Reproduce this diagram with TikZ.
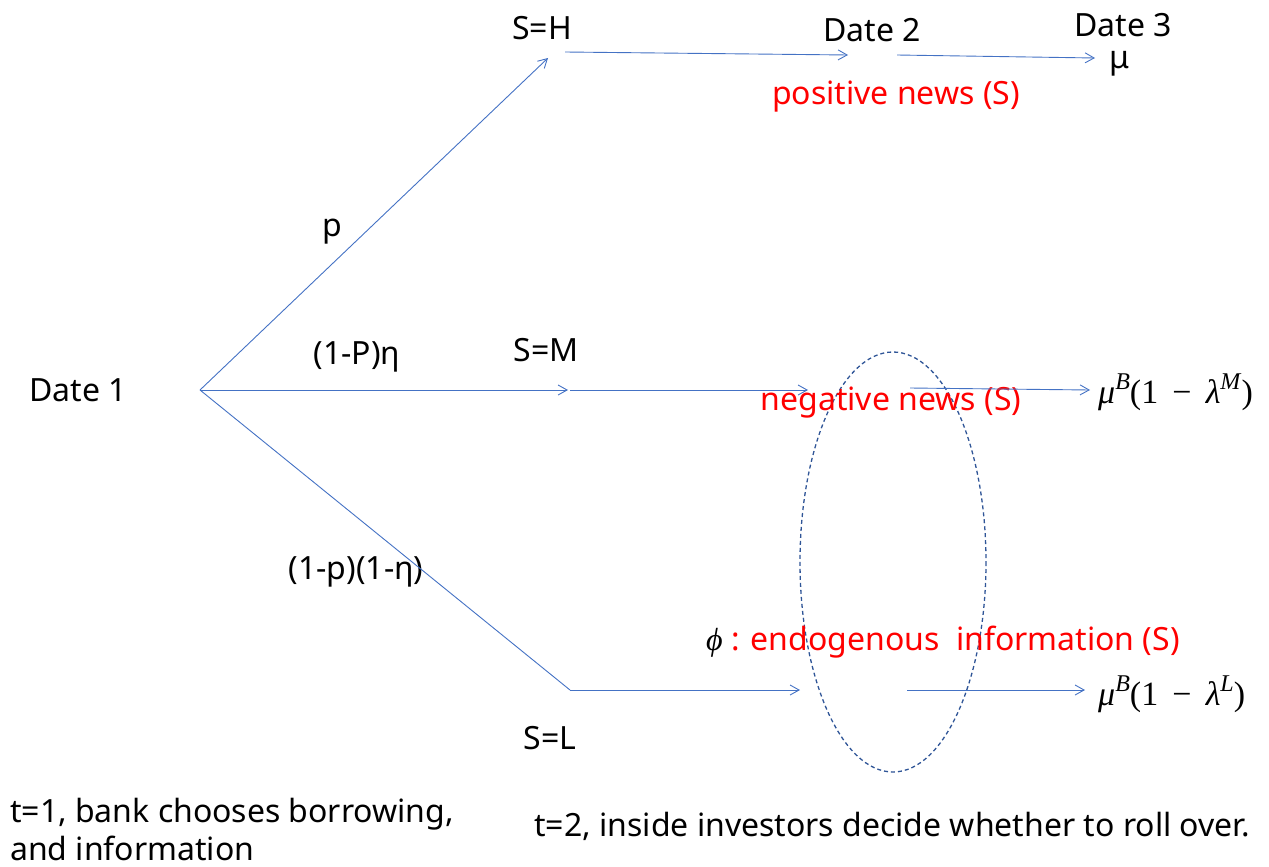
\documentclass[tikz,border=0pt]{standalone}
\usepackage{fontspec}
\setmainfont{Noto Sans}
\newfontfamily\tms{Liberation Serif}
\usetikzlibrary{arrows.meta}
\definecolor{arr}{HTML}{4472C4}
\definecolor{ell}{HTML}{2F5597}
\definecolor{rd}{HTML}{FF0000}
\newcommand{\supx}[1]{\raisebox{0.42em}{\fontsize{24}{24}\selectfont\textit{#1}}}
\tikzset{
  conn/.style={draw=arr, line width=0.9pt, -{Straight Barb[length=9pt,width=10pt,line width=0.9pt]}},
  lbl/.style={font=\fontsize{32}{38}\selectfont, text=black, inner sep=0pt},
  red/.style={font=\fontsize{32}{38}\selectfont, text=rd, inner sep=0pt},
  mth/.style={font=\tms\fontsize{34}{38}\selectfont, text=black, inner sep=0pt}
}
\begin{document}
\begin{tikzpicture}[x=1pt,y=-1pt]
\useasboundingbox (0,0) rectangle (1269,867);
% anchor points
\coordinate (o) at (200,390);
\coordinate (h1) at (548,58);
\coordinate (h2) at (565,52);
\coordinate (h3) at (848,55);
\coordinate (h4) at (897,55);
\coordinate (h5) at (1095,58);
\coordinate (m1) at (568,390);
\coordinate (m2) at (570,390);
\coordinate (m3) at (808,390);
\coordinate (m4) at (910,388);
\coordinate (m5) at (1090,390);
\coordinate (l1) at (570,690);
\coordinate (l2) at (800,690);
\coordinate (l3) at (907,690);
\coordinate (l4) at (1085,690);
% texts
\node[lbl] (d1) at (78,390) {Date 1};
\node[lbl] (sh) at (542,28) {S=H};
\node[lbl] (d2) at (872,30) {Date 2};
\node[lbl] (d3) at (1123,25) {Date 3};
\node[lbl] (mu) at (1120,64) {μ};
\node[red] (pos) at (896,97) {positive news (S)};
\node[lbl] (p) at (332,232) {p};
\node[lbl] (pe) at (357,357) {(1-P)η};
\node[lbl] (sm) at (546,350) {S=M};
\node[lbl] (pq) at (356,572) {(1-p)(1-η)};
\node[lbl] (sl) at (550,738) {S=L};
\node[mth, anchor=west] (rm) at (1098,392) {\textit{μ}\supx{B}(1\,\ −\ \,\textit{λ}\supx{M})};
\node[mth, anchor=west] (rl) at (1098,694) {\textit{μ}\supx{B}(1\,\ −\ \,\textit{λ}\supx{L})};
% ellipse
\draw[ell, line width=1.3pt, dash pattern=on 4pt off 3pt] (893,562) ellipse [x radius=93, y radius=210];
\node[red] (neg) at (891,403) {negative news (S)};
\node[red, anchor=west] (endo) at (706,642) {\textcolor{black}{\tms\itshape ϕ} : endogenous\ \ information (S)};
% connectors
\draw[conn] (o) -- (h1);
\draw[conn] (h2) -- (h3);
\draw[conn] (h4) -- (h5);
\draw[conn] (o) -- (m1);
\draw[conn] (m2) -- (m3);
\draw[conn] (m4) -- (m5);
\draw[draw=arr, line width=0.9pt] (o) -- (l1);
\draw[conn] (l1) -- (l2);
\draw[conn] (l3) -- (l4);
% bottom texts
\node[lbl, anchor=west, align=left] (t1) at (10,829) {t=1, bank chooses borrowing,\\and information};
\node[lbl] (t2) at (892,826) {t=2, inside investors decide whether to roll over.};
\end{tikzpicture}
\end{document}
